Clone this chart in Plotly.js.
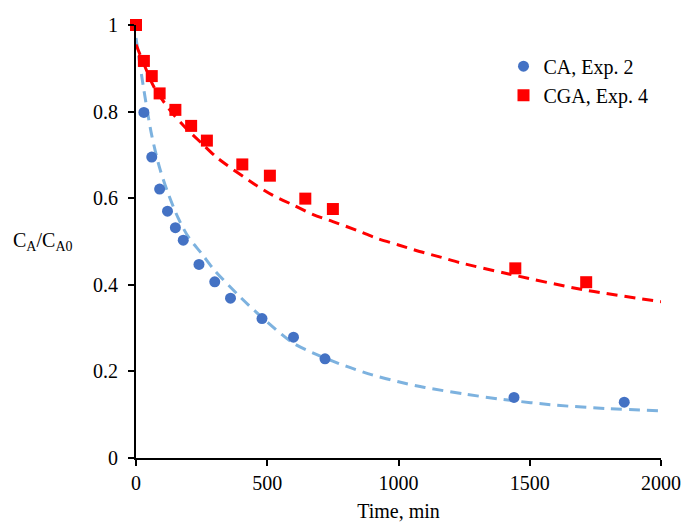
<!DOCTYPE html>
<html>
<head>
<meta charset="utf-8">
<script src="https://cdn.plot.ly/plotly-3.0.1.min.js"></script>
<style>html,body{margin:0;padding:0;background:#fff;}#chart{width:686px;height:523px;}</style>
</head>
<body>
<div id="chart"></div>
<script>
// Measured data: CA, Exp. 2
const caTime = [30, 60, 90, 120, 150, 180, 240, 300, 360, 480, 600, 720, 1440, 1860];
const caRatio = [0.798, 0.695, 0.621, 0.570, 0.532, 0.503, 0.447, 0.407, 0.369, 0.322, 0.279, 0.229, 0.140, 0.129];
// Measured data: CGA, Exp. 4
const cgaTime = [0, 30, 60, 90, 150, 210, 270, 405, 510, 645, 750, 1445, 1715];
const cgaRatio = [1.0, 0.917, 0.882, 0.842, 0.804, 0.767, 0.733, 0.678, 0.652, 0.599, 0.575, 0.438, 0.406];
// Model curves
const caFitTime = [0, 30, 60, 90, 120, 160, 200, 250, 300, 400, 500, 600, 700, 800, 900, 1000, 1100, 1250, 1400, 1600, 1800, 2000];
const caFitRatio = [0.97, 0.85, 0.745, 0.67, 0.615, 0.555, 0.51, 0.472, 0.433, 0.37, 0.314, 0.265, 0.236, 0.212, 0.192, 0.176, 0.163, 0.148, 0.135, 0.122, 0.114, 0.109];
const cgaFitTime = [0, 30, 70, 130, 185, 250, 310, 450, 520, 600, 675, 750, 840, 915, 1000, 1080, 1160, 1235, 1420, 1700, 2000];
const cgaFitRatio = [0.955, 0.91, 0.855, 0.803, 0.765, 0.727, 0.693, 0.633, 0.607, 0.584, 0.562, 0.546, 0.526, 0.508, 0.492, 0.477, 0.464, 0.451, 0.425, 0.389, 0.361];
const xTicks = [0, 500, 1000, 1500, 2000];
const yTicks = [0, 0.2, 0.4, 0.6, 0.8, 1];
const yTickText = ['0', '0.2', '0.4', '0.6', '0.8', '1'];

const FONT = 'Liberation Serif';

const traces = [
  {x: caFitTime, y: caFitRatio, mode: 'lines', line: {color: '#7db2df', width: 3, dash: '11px,7px', shape: 'spline', smoothing: 0.8}, showlegend: false, hoverinfo: 'skip', cliponaxis: false},
  {x: cgaFitTime, y: cgaFitRatio, mode: 'lines', line: {color: '#ff0000', width: 3, dash: '11px,7px', shape: 'spline', smoothing: 0.8}, showlegend: false, hoverinfo: 'skip', cliponaxis: false},
  {x: caTime, y: caRatio, mode: 'markers', name: 'CA, Exp. 2', marker: {symbol: 'circle', size: 11, color: '#4472c4'}, cliponaxis: false},
  {x: cgaTime, y: cgaRatio, mode: 'markers', name: 'CGA, Exp. 4', marker: {symbol: 'square', size: 12, color: '#ff0000'}, cliponaxis: false}
];

const layout = {
  width: 686, height: 523,
  margin: {l: 136, r: 25, t: 25, b: 65},
  paper_bgcolor: '#ffffff', plot_bgcolor: '#ffffff',
  font: {family: FONT, size: 20, color: '#000000'},
  showlegend: true,
  legend: {x: 0.70, y: 0.95, xanchor: 'left', yanchor: 'top', bgcolor: 'rgba(0,0,0,0)', font: {family: FONT, size: 20, color: '#000'}},
  xaxis: {
    range: [0, 2000], tickvals: xTicks, ticktext: xTicks.map(String),
    showline: true, linecolor: '#000', linewidth: 2,
    ticks: 'outside', ticklen: 6, tickwidth: 2, tickcolor: '#000',
    showgrid: false, zeroline: false,
    tickfont: {family: FONT, size: 20, color: '#000'},
    title: {text: 'Time, min', font: {family: FONT, size: 20, color: '#000'}, standoff: 11}
  },
  yaxis: {
    range: [0, 1], tickvals: yTicks, ticktext: yTickText,
    showline: true, linecolor: '#000', linewidth: 2,
    ticks: 'outside', ticklen: 6, tickwidth: 2, tickcolor: '#000',
    showgrid: false, zeroline: false,
    tickfont: {family: FONT, size: 20, color: '#000'},
    ticklabelstandoff: 6
  },
  annotations: [{
    text: 'C<sub>A</sub>/C<sub>A0</sub>', xref: 'paper', yref: 'paper',
    x: -0.116, y: 0.5, xanchor: 'right', yanchor: 'middle', showarrow: false,
    font: {family: FONT, size: 20, color: '#000'}
  }]
};

Plotly.newPlot('chart', traces, layout, {displayModeBar: false, staticPlot: true});
</script>
</body>
</html>
